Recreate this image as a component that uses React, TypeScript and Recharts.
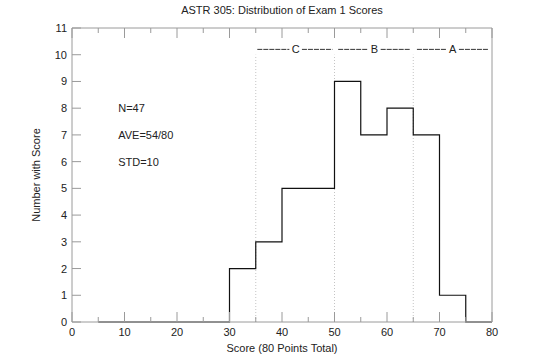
import React from 'react';
import { ComposedChart, Line, XAxis, YAxis, ReferenceLine, ReferenceDot } from 'recharts';

const binStarts = [5, 10, 15, 20, 25, 30, 35, 40, 45, 50, 55, 60, 65, 70, 75, 80];
const counts = [0, 0, 0, 0, 0, 2, 3, 5, 5, 9, 7, 8, 7, 1, 0, 0];
const xTicks = [0, 5, 10, 15, 20, 25, 30, 35, 40, 45, 50, 55, 60, 65, 70, 75, 80];
const yTicks = [0, 1, 2, 3, 4, 5, 6, 7, 8, 9, 10, 11];
const gradeBounds = [35, 50, 65];
const gradeLabels = [
  { grade: 'C', x: 42.6, left: [35.3, 41.4], right: [43.8, 49.6] },
  { grade: 'B', x: 57.6, left: [50.7, 56.4], right: [58.8, 64.5] },
  { grade: 'A', x: 72.5, left: [65.7, 71.3], right: [73.7, 79.4] },
];
const gradeY = 10.2;
const stats = [
  { text: 'N=47', y: 8 },
  { text: 'AVE=54/80', y: 7 },
  { text: 'STD=10', y: 6 },
];
const statsX = 8.8;

const data = binStarts.map((s, i) => ({ score: s, count: counts[i] }));

const FONT = '"Liberation Sans", Arial, sans-serif';
const AXIS = '#9a9a9a';

const BottomTick = (props: any) => {
  const { x, y, payload } = props;
  const major = payload.value % 10 === 0;
  return (
    <g>
      <line x1={x} x2={x} y1={y} y2={y - (major ? 10 : 5)} stroke={AXIS} />
      {major && (
        <text x={x} y={y + 14} textAnchor="middle" fontSize={11} fontFamily={FONT} fill="#222">
          {payload.value}
        </text>
      )}
    </g>
  );
};

const TopTick = (props: any) => {
  const { x, y, payload } = props;
  const major = payload.value % 10 === 0;
  return <line x1={x} x2={x} y1={y} y2={y + (major ? 10 : 5)} stroke={AXIS} />;
};

const LeftTick = (props: any) => {
  const { x, y, payload } = props;
  return (
    <g>
      <line x1={x} x2={x + 9} y1={y} y2={y} stroke={AXIS} />
      <text x={x - 5} y={y + 4} textAnchor="end" fontSize={11} fontFamily={FONT} fill="#222">
        {payload.value}
      </text>
    </g>
  );
};

const RightTick = (props: any) => {
  const { x, y } = props;
  return <line x1={x} x2={x - 9} y1={y} y2={y} stroke={AXIS} />;
};

export default function App() {
  return (
    <div style={{ position: 'absolute', left: 0, top: 0 }}>
      <ComposedChart width={540} height={361} data={data} margin={{ top: 0, right: 0, bottom: 0, left: 0 }}>
        <XAxis
          dataKey="score"
          type="number"
          domain={[0, 80]}
          ticks={xTicks}
          interval={0}
          height={39}
          stroke={AXIS}
          tickSize={0}
          tickMargin={0}
          tickLine={false}
          tick={BottomTick}
          label={{ value: 'Score (80 Points Total)', position: 'insideBottom', offset: 9, fontSize: 11, fontFamily: FONT, fill: '#222' }}
        />
        <XAxis
          xAxisId="top"
          dataKey="score"
          type="number"
          orientation="top"
          domain={[0, 80]}
          ticks={xTicks}
          interval={0}
          height={28}
          stroke={AXIS}
          tickSize={0}
          tickMargin={0}
          tickLine={false}
          tick={TopTick}
          label={{ value: 'ASTR 305: Distribution of Exam 1 Scores', position: 'insideTop', offset: 6, fontSize: 11, fontFamily: FONT, fill: '#222' }}
        />
        <YAxis
          type="number"
          domain={[0, 11]}
          ticks={yTicks}
          interval={0}
          width={72}
          stroke={AXIS}
          tickSize={0}
          tickMargin={0}
          tickLine={false}
          tick={LeftTick}
          label={{ value: 'Number with Score', angle: -90, position: 'center', fontSize: 11, fontFamily: FONT, fill: '#222' }}
        />
        <YAxis
          yAxisId="right"
          orientation="right"
          type="number"
          domain={[0, 11]}
          ticks={yTicks}
          interval={0}
          width={48}
          stroke={AXIS}
          tickSize={0}
          tickMargin={0}
          tickLine={false}
          tick={RightTick}
        />
        {gradeBounds.map((b) => (
          <ReferenceLine
            key={'b' + b}
            segment={[{ x: b, y: 0 }, { x: b, y: 10 }]}
            stroke="#c4c4c4"
            strokeDasharray="1 2"
            ifOverflow="visible"
          />
        ))}
        {gradeLabels.map((g) => (
          <ReferenceLine
            key={'l' + g.grade}
            segment={[{ x: g.left[0], y: gradeY }, { x: g.left[1], y: gradeY }]}
            stroke="#333"
            strokeDasharray="5 1"
            ifOverflow="visible"
          />
        ))}
        {gradeLabels.map((g) => (
          <ReferenceLine
            key={'r' + g.grade}
            segment={[{ x: g.right[0], y: gradeY }, { x: g.right[1], y: gradeY }]}
            stroke="#333"
            strokeDasharray="5 1"
            ifOverflow="visible"
          />
        ))}
        {gradeLabels.map((g) => (
          <ReferenceDot
            key={'t' + g.grade}
            x={g.x}
            y={gradeY}
            r={0}
            fill="none"
            stroke="none"
            label={{ value: g.grade, position: 'center', fontSize: 11, fontFamily: FONT, fill: '#222' }}
          />
        ))}
        {stats.map((s) => (
          <ReferenceDot
            key={s.text}
            x={statsX}
            y={s.y}
            r={0}
            fill="none"
            stroke="none"
            label={{ value: s.text, position: 'right', offset: 0, fontSize: 11, fontFamily: FONT, fill: '#222' }}
          />
        ))}
        <Line
          type="stepAfter"
          dataKey="count"
          stroke="#111"
          strokeWidth={1.2}
          dot={false}
          isAnimationActive={false}
        />
      </ComposedChart>
    </div>
  );
}
